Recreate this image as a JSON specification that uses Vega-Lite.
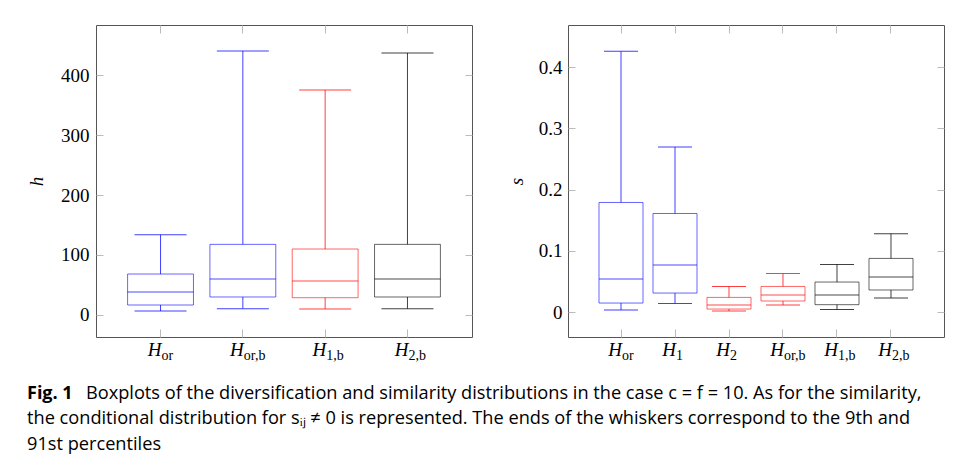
{
  "$schema": "https://vega.github.io/schema/vega-lite/v6.json",
  "padding": {"left": 27, "top": 24, "right": 5, "bottom": 5},
  "background": "white",
  "datasets": {
    "h": [
      {"sub": "or", "group": "A", "lo": 6.2, "q1": 16.2, "med": 38, "q3": 68, "hi": 133.8},
      {"sub": "or,b", "group": "A", "lo": 10, "q1": 29.6, "med": 59.7, "q3": 117.6, "hi": 441},
      {"sub": "1,b", "group": "B", "lo": 9.5, "q1": 28.4, "med": 56.4, "q3": 109.8, "hi": 375.7},
      {"sub": "2,b", "group": "C", "lo": 10, "q1": 29.6, "med": 59.7, "q3": 117.6, "hi": 437.6}
    ],
    "s": [
      {"sub": "or", "group": "A", "lo": 0.0033, "q1": 0.0147, "med": 0.054, "q3": 0.179, "hi": 0.426},
      {"sub": "1", "group": "A", "lo": 0.014, "q1": 0.031, "med": 0.0768, "q3": 0.161, "hi": 0.2696},
      {"sub": "2", "group": "B", "lo": 0.0016, "q1": 0.0049, "med": 0.0114, "q3": 0.0239, "hi": 0.0418},
      {"sub": "or,b", "group": "B", "lo": 0.0114, "q1": 0.018, "med": 0.0278, "q3": 0.0418, "hi": 0.063},
      {"sub": "1,b", "group": "C", "lo": 0.0043, "q1": 0.012, "med": 0.0278, "q3": 0.049, "hi": 0.0778},
      {"sub": "2,b", "group": "C", "lo": 0.0229, "q1": 0.036, "med": 0.0572, "q3": 0.0876, "hi": 0.128}
    ],
    "caption": [
      {"line": 1, "part": "label", "text": "Fig. 1"},
      {"line": 1, "part": "body", "text": "Boxplots of the diversification and similarity distributions in the case c = f = 10. As for the similarity,"},
      {"line": 2, "part": "body", "text": "the conditional distribution for sᵢⱼ ≠ 0 is represented. The ends of the whiskers correspond to the 9th and"},
      {"line": 3, "part": "body", "text": "91st percentiles"}
    ]
  },
  "vconcat": [
    {
      "hconcat": [
        {
          "width": 376,
          "height": 312,
          "data": {"name": "h"},
          "resolve": {"axis": {"x": "independent", "y": "independent"}},
          "layer": [
            {
              "mark": {"type": "bar", "filled": false, "strokeWidth": 1, "strokeOpacity": 0.6},
              "encoding": {
                "x": {"field": "sub", "type": "nominal", "sort": null, "scale": {"paddingInner": 0.2, "paddingOuter": 0.384},
                      "axis": {"orient": "bottom", "labels": false, "tickSize": -8, "title": null}},
                "y": {"field": "q1", "type": "quantitative", "scale": {"domain": [-37.3, 484.4], "nice": false, "zero": false},
                      "axis": {"orient": "left", "values": [0, 100, 200, 300, 400], "format": "d", "tickSize": -7, "labelPadding": 14,
                               "labelFont": "serif", "labelFontSize": 19, "labelColor": "black",
                               "title": "h", "titlePadding": 14, "titleFont": "serif", "titleFontSize": 19, "titleFontStyle": "italic", "titleFontWeight": "normal", "titleColor": "black"}},
                "y2": {"field": "q3"},
                "color": {"field": "group", "type": "nominal", "scale": {"domain": ["A", "B", "C"], "range": ["#0000ff", "#ff0000", "#000000"]}, "legend": null}
              }
            },
            {
              "mark": {"type": "tick", "size": 66, "thickness": 1},
              "encoding": {
                "x": {"field": "sub", "type": "nominal", "sort": null, "axis": {"orient": "top", "labels": false, "tickSize": -8, "title": null}},
                "y": {"field": "med", "type": "quantitative", "axis": {"orient": "right", "labels": false, "values": [0, 100, 200, 300, 400], "tickSize": -7, "title": null}},
                "color": {"field": "group", "type": "nominal", "legend": null}
              }
            },
            {
              "mark": {"type": "rule", "strokeWidth": 1, "strokeOpacity": 0.75},
              "encoding": {
                "x": {"field": "sub", "type": "nominal", "sort": null, "axis": null},
                "y": {"field": "q3", "type": "quantitative", "axis": null},
                "y2": {"field": "hi"},
                "color": {"field": "group", "type": "nominal", "legend": null}
              }
            },
            {
              "mark": {"type": "rule", "strokeWidth": 1, "strokeOpacity": 0.75},
              "encoding": {
                "x": {"field": "sub", "type": "nominal", "sort": null, "axis": null},
                "y": {"field": "lo", "type": "quantitative", "axis": null},
                "y2": {"field": "q1"},
                "color": {"field": "group", "type": "nominal", "legend": null}
              }
            },
            {
              "mark": {"type": "tick", "size": 52, "thickness": 1, "opacity": 0.75},
              "encoding": {
                "x": {"field": "sub", "type": "nominal", "sort": null, "axis": null},
                "y": {"field": "hi", "type": "quantitative", "axis": null},
                "color": {"field": "group", "type": "nominal", "legend": null}
              }
            },
            {
              "mark": {"type": "tick", "size": 52, "thickness": 1, "opacity": 0.75},
              "encoding": {
                "x": {"field": "sub", "type": "nominal", "sort": null, "axis": null},
                "y": {"field": "lo", "type": "quantitative", "axis": null},
                "color": {"field": "group", "type": "nominal", "legend": null}
              }
            },
            {
              "mark": {"type": "text", "text": "H", "font": "serif", "fontStyle": "italic", "fontSize": 19, "align": "right", "baseline": "alphabetic", "dy": 19, "dx": 1, "color": "black"},
              "encoding": {
                "x": {"field": "sub", "type": "nominal", "sort": null, "axis": null},
                "y": {"datum": -37.3, "type": "quantitative", "axis": null}
              }
            },
            {
              "mark": {"type": "text", "font": "serif", "fontSize": 14, "align": "left", "baseline": "alphabetic", "dy": 22.5, "dx": 1, "color": "black"},
              "encoding": {
                "x": {"field": "sub", "type": "nominal", "sort": null, "axis": null},
                "y": {"datum": -37.3, "type": "quantitative", "axis": null},
                "text": {"field": "sub"}
              }
            }
          ]
        },
        {
          "width": 376,
          "height": 312,
          "data": {"name": "s"},
          "resolve": {"axis": {"x": "independent", "y": "independent"}},
          "layer": [
            {
              "mark": {"type": "bar", "filled": false, "strokeWidth": 1, "strokeOpacity": 0.6},
              "encoding": {
                "x": {"field": "sub", "type": "nominal", "sort": null, "scale": {"paddingInner": 0.185, "paddingOuter": 0.574},
                      "axis": {"orient": "bottom", "labels": false, "tickSize": -8, "title": null}},
                "y": {"field": "q1", "type": "quantitative", "scale": {"domain": [-0.0408, 0.469], "nice": false, "zero": false},
                      "axis": {"orient": "left", "values": [0, 0.1, 0.2, 0.3, 0.4], "format": ".1~f", "tickSize": -7, "labelPadding": 13,
                               "labelFont": "serif", "labelFontSize": 19, "labelColor": "black",
                               "title": "s", "titlePadding": 12, "titleFont": "serif", "titleFontSize": 19, "titleFontStyle": "italic", "titleFontWeight": "normal", "titleColor": "black"}},
                "y2": {"field": "q3"},
                "color": {"field": "group", "type": "nominal", "legend": null}
              }
            },
            {
              "mark": {"type": "tick", "size": 44, "thickness": 1},
              "encoding": {
                "x": {"field": "sub", "type": "nominal", "sort": null, "axis": {"orient": "top", "labels": false, "tickSize": -8, "title": null}},
                "y": {"field": "med", "type": "quantitative", "axis": {"orient": "right", "labels": false, "values": [0, 0.1, 0.2, 0.3, 0.4], "tickSize": -7, "title": null}},
                "color": {"field": "group", "type": "nominal", "legend": null}
              }
            },
            {
              "mark": {"type": "rule", "strokeWidth": 1, "strokeOpacity": 0.75},
              "encoding": {
                "x": {"field": "sub", "type": "nominal", "sort": null, "axis": null},
                "y": {"field": "q3", "type": "quantitative", "axis": null},
                "y2": {"field": "hi"},
                "color": {"field": "group", "type": "nominal", "legend": null}
              }
            },
            {
              "mark": {"type": "rule", "strokeWidth": 1, "strokeOpacity": 0.75},
              "encoding": {
                "x": {"field": "sub", "type": "nominal", "sort": null, "axis": null},
                "y": {"field": "lo", "type": "quantitative", "axis": null},
                "y2": {"field": "q1"},
                "color": {"field": "group", "type": "nominal", "legend": null}
              }
            },
            {
              "mark": {"type": "tick", "size": 34, "thickness": 1, "opacity": 0.75},
              "encoding": {
                "x": {"field": "sub", "type": "nominal", "sort": null, "axis": null},
                "y": {"field": "hi", "type": "quantitative", "axis": null},
                "color": {"field": "group", "type": "nominal", "legend": null}
              }
            },
            {
              "mark": {"type": "tick", "size": 34, "thickness": 1, "opacity": 0.75},
              "encoding": {
                "x": {"field": "sub", "type": "nominal", "sort": null, "axis": null},
                "y": {"field": "lo", "type": "quantitative", "axis": null},
                "color": {"field": "group", "type": "nominal", "legend": null}
              }
            },
            {
              "mark": {"type": "text", "text": "H", "font": "serif", "fontStyle": "italic", "fontSize": 19, "align": "right", "baseline": "alphabetic", "dy": 19, "dx": 1, "color": "black"},
              "encoding": {
                "x": {"field": "sub", "type": "nominal", "sort": null, "axis": null},
                "y": {"datum": -0.0408, "type": "quantitative", "axis": null}
              }
            },
            {
              "mark": {"type": "text", "font": "serif", "fontSize": 14, "align": "left", "baseline": "alphabetic", "dy": 22.5, "dx": 1, "color": "black"},
              "encoding": {
                "x": {"field": "sub", "type": "nominal", "sort": null, "axis": null},
                "y": {"datum": -0.0408, "type": "quantitative", "axis": null},
                "text": {"field": "sub"}
              }
            }
          ]
        }
      ],
      "spacing": 33
    },
    {
      "width": 840,
      "height": 76.5,
      "data": {"name": "caption"},
      "view": {"stroke": null},
      "encoding": {
        "x": {"datum": 0, "type": "quantitative", "scale": {"domain": [0, 1]}, "axis": null},
        "y": {"field": "line", "type": "quantitative", "scale": {"domain": [0.5, 3.5], "reverse": true}, "axis": null}
      },
      "layer": [
        {
          "transform": [{"filter": "datum.part == 'label'"}],
          "mark": {"type": "text", "font": "Open Sans", "fontSize": 18, "fontWeight": "bold", "align": "left", "baseline": "alphabetic", "dx": -69, "dy": 2, "color": "black"},
          "encoding": {"text": {"field": "text"}}
        },
        {
          "transform": [{"filter": "datum.part == 'body' && datum.line == 1"}],
          "mark": {"type": "text", "font": "Open Sans", "fontSize": 18.2, "align": "left", "baseline": "alphabetic", "dx": -10, "dy": 2, "color": "black"},
          "encoding": {"text": {"field": "text"}}
        },
        {
          "transform": [{"filter": "datum.part == 'body' && datum.line > 1"}],
          "mark": {"type": "text", "font": "Open Sans", "fontSize": 18.2, "align": "left", "baseline": "alphabetic", "dx": -69, "dy": 2, "color": "black"},
          "encoding": {"text": {"field": "text"}}
        }
      ]
    }
  ],
  "spacing": 20,
  "config": {
    "view": {"stroke": "#555555", "strokeWidth": 1},
    "axis": {"labelFont": "serif", "labelFontSize": 19, "labelColor": "black", "titleFont": "serif", "titleFontSize": 19, "titleFontStyle": "italic", "titleFontWeight": "normal", "titleColor": "black", "tickColor": "#bbbbbb", "domain": false, "grid": false}
  }
}
